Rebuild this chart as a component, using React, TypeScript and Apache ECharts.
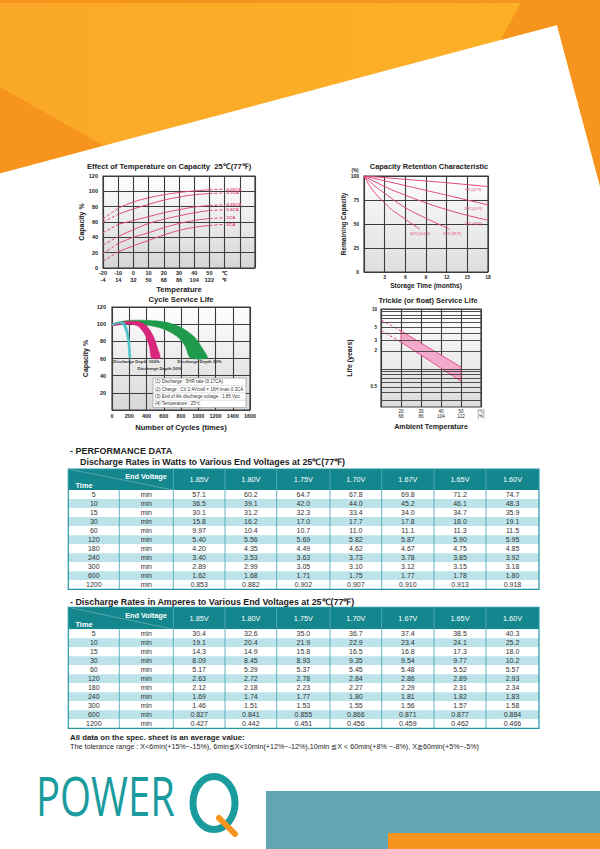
import React, { useEffect, useRef } from "react";
import * as echarts from "echarts";

const FONT = "'Liberation Sans', Arial, Helvetica, sans-serif";
const PINK = "#E2477F";
const INK = "#222";
const GRIDLINE = "#3c3c3c";

// ---------- Chart 1: Effect of Temperature on Capacity ----------
const capTempLabelsC = [-20, -10, 0, 10, 20, 30, 40, 50];
const capTempLabelsF = [-4, 14, 32, 50, 68, 86, 104, 122];
const capRates = ["0.05CA", "0.1CA", "0.25CA", "0.6CA", "1CA", "2CA"];
const capSolidTemps = [-10, 0, 10, 20, 30, 40, 50];
const capSolid = [
  [78, 86, 91.5, 95.5, 98.5, 100.5, 102],
  [70, 77, 83, 88.5, 92.5, 95.5, 97],
  [57, 62, 67, 72, 76, 79.5, 81.5],
  [41, 50, 58, 63.5, 68, 72, 75],
  [32, 40, 46, 52.5, 58, 62, 64.5],
  [21, 29, 36, 43, 49, 53, 55.5],
];
const capColdTemps = [-20, -10];
const capCold = [[64, 78], [60, 70], [46, 57], [30, 41], [19, 32], [9, 21]];
const capHotTemps = [50, 60];
const capHot = [[102, 103], [97, 98], [81.5, 82.5], [75, 76], [64.5, 65.5], [55.5, 57]];

// ---------- Chart 2: Capacity Retention ----------
const retLabels = ["5℃(41℉)", "10℃(50℉)", "20℃(68℉)", "30℃(86℉)", "40℃(104℉)"];
const retCurves = [
  [[0, 100], [3, 98.3], [6, 96.5], [9, 94.8], [12, 93], [15, 91], [18, 89]],
  [[0, 100], [3, 95], [6, 90], [9, 85], [12, 80], [15, 75], [18, 70]],
  [[0, 100], [3, 89], [6, 80], [9, 72], [12, 65], [15, 59], [18, 54]],
  [[0, 100], [1.5, 90], [3, 82], [6, 67], [9, 56], [12, 46], [12.4, 44.5]],
  [[0, 100], [1, 88], [2, 79], [3, 72], [4, 65], [5, 60], [6, 55], [7, 50], [8.1, 44.5]],
];

// ---------- Chart 3: Cycle Service Life ----------
const cycDepths = ["Discharge Depth 30%", "Discharge Depth 50%", "Discharge Depth 100%"];
const cycUpper = [
  [[0, 100.2], [100, 103], [207, 104.5], [402, 104.5], [616, 102.5], [792, 96.7], [948, 85.8], [1046, 72.2], [1104, 60.6]],
  [[0, 100.2], [100, 102.3], [207, 103.3], [324, 102.5], [413, 96.7], [480, 85.8], [527, 72.2], [558, 60.6]],
  [[0, 100.2], [90, 102.5], [148, 101.4], [187, 91.7], [207, 78], [218, 60.6]],
];
const cycLower = [
  [[0, 98.3], [100, 99.8], [207, 100.6], [402, 99], [597, 94.4], [753, 85.8], [850, 74.1], [909, 60.6]],
  [[0, 98.3], [100, 99.5], [207, 100.2], [304, 97.5], [382, 87.8], [433, 74.2], [460, 60.6]],
  [[0, 98.6], [82, 101], [129, 98.6], [168, 87.8], [187, 74.2], [199, 60.6]],
];
const cycColors = ["#1F9A4B", "#D8267A", "#4CC3C6"];
const cycNotes = [
  "(1) Discharge : 5HR rate (0.17CA)",
  "(2) Charge : CV 2.4V/cell × 16H Imax 0.3CA",
  "(3) End of life discharge voltage : 1.85 Vpc",
  "(4) Temperature : 25℃",
];

// ---------- Chart 4: Trickle (float) Service Life ----------
const floatTempC = [20, 30, 40, 50];
const floatTempF = [68, 86, 104, 122];
const lifeBandUpper = [[20, 4.3], [50, 1.07]];
const lifeBandLower = [[20, 2.8], [50, 0.62]];
const lifeDashUpper = [[10, 6.6], [20, 4.3]];
const lifeDashLower = [[10, 4.4], [20, 2.8]];
const lifeGridValues = [10, 9, 8, 7, 6, 5, 4, 3, 2, 1, 0.9, 0.8, 0.7, 0.6, 0.5, 0.4, 0.3];
const lifeTickLabels = [10, 5, 3, 2, 0.5];

// ---------- Tables ----------
const rateTimes = ["5", "10", "15", "30", "60", "120", "180", "240", "300", "600", "1200"];
const endVoltages = ["1.85V", "1.80V", "1.75V", "1.70V", "1.67V", "1.65V", "1.60V"];
const wattsTable = [
  ["57.1", "36.5", "30.1", "15.8", "9.97", "5.40", "4.20", "3.40", "2.89", "1.62", "0.853"],
  ["60.2", "39.1", "31.2", "16.2", "10.4", "5.56", "4.35", "3.53", "2.99", "1.68", "0.882"],
  ["64.7", "42.0", "32.3", "17.0", "10.7", "5.69", "4.49", "3.63", "3.05", "1.71", "0.902"],
  ["67.8", "44.0", "33.4", "17.7", "11.0", "5.82", "4.62", "3.73", "3.10", "1.75", "0.907"],
  ["69.8", "45.2", "34.0", "17.8", "11.1", "5.87", "4.67", "3.78", "3.12", "1.77", "0.910"],
  ["71.2", "46.1", "34.7", "18.0", "11.3", "5.90", "4.75", "3.85", "3.15", "1.78", "0.913"],
  ["74.7", "48.3", "35.9", "19.1", "11.5", "5.95", "4.85", "3.92", "3.18", "1.80", "0.918"],
];
const ampsTable = [
  ["30.4", "19.1", "14.3", "8.09", "5.17", "2.63", "2.12", "1.69", "1.46", "0.827", "0.427"],
  ["32.6", "20.4", "14.9", "8.45", "5.29", "2.72", "2.18", "1.74", "1.51", "0.841", "0.442"],
  ["35.0", "21.9", "15.8", "8.93", "5.37", "2.78", "2.23", "1.77", "1.53", "0.855", "0.451"],
  ["36.7", "22.9", "16.5", "9.35", "5.45", "2.84", "2.27", "1.80", "1.55", "0.866", "0.456"],
  ["37.4", "23.4", "16.8", "9.54", "5.48", "2.86", "2.29", "1.81", "1.56", "0.871", "0.459"],
  ["38.5", "24.1", "17.3", "9.77", "5.52", "2.89", "2.31", "1.82", "1.57", "0.877", "0.462"],
  ["40.3", "25.2", "18.0", "10.2", "5.57", "2.93", "2.34", "1.83", "1.58", "0.884", "0.466"],
];

// ---------- helpers ----------
function txt(x: number, y: number, text: string, o: any = {}) {
  const align = o.align || "left";
  return {
    type: "text",
    x,
    y,
    rotation: o.rotation || 0,
    scaleX: o.scaleX || 1,
    z: o.z || 10,
    style: {
      text,
      fill: o.fill || INK,
      fontSize: o.fontSize || 7,
      fontWeight: o.fontWeight || "normal",
      fontFamily: o.fontFamily || FONT,
      align,
      verticalAlign: "middle",
      textAlign: align,
      textVerticalAlign: "middle",
    },
  };
}

const gradBg = (bottom: string) => ({
  type: "linear",
  x: 0,
  y: 0,
  x2: 0,
  y2: 1,
  colorStops: [
    { offset: 0, color: "#ffffff" },
    { offset: 0.3, color: "#f3f3f3" },
    { offset: 1, color: bottom },
  ],
});

const gridStyle = (bottom: string) => ({
  show: true,
  borderColor: GRIDLINE,
  borderWidth: 1.2,
  backgroundColor: gradBg(bottom),
  containLabel: false,
  outerBoundsMode: "none",
});

const axBase = {
  axisLine: { show: false },
  axisTick: { show: false },
  splitLine: { show: true, lineStyle: { color: GRIDLINE, width: 1.1 } },
};

const nameStyle = (size: number) => ({ fontSize: size, fontWeight: "bold", color: INK, fontFamily: FONT });
const labelStyle = (size: number, margin: number, extra: any = {}) => ({
  fontSize: size,
  fontWeight: "bold",
  color: INK,
  fontFamily: FONT,
  margin,
  ...extra,
});

const COLX = [68.3, 119.3, 173.3, 225, 276.7, 330, 381.7, 434, 486, 539];

function tableGraphics(top: number, headH: number, rowH: number, cols: string[][]) {
  const els: any[] = [];
  const left = COLX[0];
  const right = COLX[COLX.length - 1];
  const w = right - left;
  const bodyTop = top + headH;
  const bottom = bodyTop + rowH * rateTimes.length;
  els.push({ type: "rect", shape: { x: left, y: top, width: w, height: headH }, style: { fill: "#13878D" }, z: 5 });
  rateTimes.forEach((_, i) => {
    els.push({
      type: "rect",
      shape: { x: left, y: bodyTop + i * rowH, width: w, height: rowH },
      style: { fill: i % 2 === 0 ? "#ffffff" : "#BCE3EA" },
      z: 5,
    });
  });
  for (let k = 2; k < COLX.length - 1; k++) {
    els.push({ type: "line", shape: { x1: COLX[k], y1: top, x2: COLX[k], y2: bodyTop }, style: { stroke: "#5DB3B8", lineWidth: 0.8 }, z: 6 });
  }
  for (let k = 1; k < COLX.length - 1; k++) {
    els.push({ type: "line", shape: { x1: COLX[k], y1: bodyTop, x2: COLX[k], y2: bottom }, style: { stroke: "#3FA2AD", lineWidth: 0.8 }, z: 6 });
  }
  els.push({ type: "line", shape: { x1: left, y1: top, x2: COLX[2], y2: bodyTop }, style: { stroke: "rgba(255,255,255,0.45)", lineWidth: 0.6 }, z: 6 });
  els.push({ type: "rect", shape: { x: left, y: top, width: w, height: bottom - top }, style: { fill: "none", stroke: "#2596A3", lineWidth: 1.2 }, z: 7 });
  els.push(txt(146, top + headH * 0.36, "End Voltage", { fill: "#fff", fontSize: 7.3, fontWeight: "bold", align: "center" }));
  els.push(txt(84, top + headH * 0.8, "Time", { fill: "#fff", fontSize: 7.3, fontWeight: "bold", align: "center" }));
  endVoltages.forEach((v, k) => {
    els.push(txt((COLX[k + 2] + COLX[k + 3]) / 2, top + headH / 2, v, { fill: "#fff", fontSize: 7.3, align: "center" }));
  });
  rateTimes.forEach((t, i) => {
    const cy = bodyTop + rowH * (i + 0.5);
    els.push(txt((COLX[0] + COLX[1]) / 2, cy, t, { fontSize: 7, fill: "#333", align: "center" }));
    els.push(txt((COLX[1] + COLX[2]) / 2, cy, "min", { fontSize: 7, fill: "#333", align: "center" }));
    cols.forEach((col, k) => {
      els.push(txt((COLX[k + 2] + COLX[k + 3]) / 2, cy, col[i], { fontSize: 7, fill: "#333", align: "center" }));
    });
  });
  return els;
}

function buildOption() {
  const series: any[] = [];

  capRates.forEach((r, i) => {
    series.push({
      type: "line", xAxisIndex: 0, yAxisIndex: 0, smooth: true, symbol: "none", silent: true,
      data: capSolidTemps.map((t, j) => [t, capSolid[i][j]]),
      lineStyle: { color: PINK, width: 1 },
    });
    series.push({
      type: "line", xAxisIndex: 0, yAxisIndex: 0, symbol: "none", silent: true,
      data: capColdTemps.map((t, j) => [t, capCold[i][j]]),
      lineStyle: { color: PINK, width: 1, type: [3, 2] },
    });
    series.push({
      type: "line", name: r, xAxisIndex: 0, yAxisIndex: 0, symbol: "none", silent: true,
      data: capHotTemps.map((t, j) => [t, capHot[i][j]]),
      lineStyle: { color: PINK, width: 1, type: [3, 2] },
      endLabel: { show: true, formatter: () => r, fontSize: 4.4, color: PINK, fontWeight: "bold", fontFamily: FONT, distance: 2 },
    });
  });

  retCurves.forEach((c, i) => {
    series.push({
      type: "line", name: retLabels[i], xAxisIndex: 1, yAxisIndex: 1, smooth: true, symbol: "none", silent: true,
      data: c, lineStyle: { color: PINK, width: 1 },
    });
  });

  cycDepths.forEach((d, i) => {
    const pts = [...cycUpper[i], ...cycLower[i].slice().reverse()];
    series.push({
      type: "custom", name: d, xAxisIndex: 2, yAxisIndex: 2, silent: true, clip: false,
      data: [[0, 100]],
      renderItem: (_p: any, api: any) => ({
        type: "polygon",
        shape: { points: pts.map((p) => api.coord(p)), smooth: 0.25 },
        style: { fill: cycColors[i], stroke: cycColors[i], lineWidth: 0.5 },
      }),
    });
  });

  const bandPts = [...lifeBandUpper, ...lifeBandLower.slice().reverse()];
  series.push({
    type: "custom", xAxisIndex: 3, yAxisIndex: 3, silent: true, clip: false,
    data: [[20, 2]], z: 3,
    renderItem: (_p: any, api: any) => ({
      type: "polygon",
      shape: { points: bandPts.map((p) => api.coord(p)) },
      style: { fill: "#F2A9CC", stroke: PINK, lineWidth: 0.9 },
    }),
  });
  series.push({
    type: "line", xAxisIndex: 3, yAxisIndex: 3, symbol: "none", silent: true,
    data: lifeDashUpper, lineStyle: { color: PINK, width: 1, type: [3, 2] },
    markLine: {
      silent: true,
      symbol: ["none", "none"],
      animation: false,
      lineStyle: { color: GRIDLINE, width: 0.9, type: "solid" },
      label: { show: false },
      emphasis: { disabled: true },
      data: lifeGridValues.map((v) => ({
        yAxis: v,
        label: lifeTickLabels.includes(v)
          ? { show: true, position: "start", formatter: () => String(v), fontSize: 4.6, color: INK, fontFamily: FONT, fontWeight: "bold", distance: 4 }
          : { show: false },
      })),
    },
  });
  series.push({
    type: "line", xAxisIndex: 3, yAxisIndex: 3, symbol: "none", silent: true,
    data: lifeDashLower, lineStyle: { color: PINK, width: 1, type: [3, 2] },
  });

  const graphic: any[] = [];
  graphic.push({
    type: "polygon", z: 0,
    shape: { points: [[0, 0], [600, 0], [600, 186], [557, 25], [0, 173.3]] },
    style: { fill: { type: "linear", x: 0, y: 0, x2: 1, y2: 0, colorStops: [{ offset: 0, color: "#FAA928" }, { offset: 1, color: "#FCB125" }] } },
  });
  graphic.push({ type: "polygon", z: 1, shape: { points: [[522, 0], [600, 0], [600, 186], [557, 25], [501, 39.9]] }, style: { fill: "#F7941E" } });
  graphic.push({ type: "polygon", z: 1, shape: { points: [[0, 87], [103, 145.6], [0, 173.3]] }, style: { fill: "#F7941E" } });
  graphic.push({ type: "rect", z: 1, shape: { x: 0, y: 0, width: 600, height: 3 }, style: { fill: "#F7941E" } });

  graphic.push({ type: "rect", z: 1, shape: { x: 266, y: 791, width: 334, height: 58 }, style: { fill: "#62A6B3" } });
  graphic.push({ type: "rect", z: 2, shape: { x: 388, y: 833, width: 212, height: 16 }, style: { fill: "#F7941E" } });
  graphic.push(txt(36, 795, "POWER", { fill: "#1A9B9E", fontSize: 54, fontFamily: "'Open Sans', 'DejaVu Sans', sans-serif", fontWeight: "normal", scaleX: 0.74 }));
  graphic.push({ type: "ellipse", z: 10, shape: { cx: 214, cy: 803, rx: 21, ry: 26.5 }, style: { fill: "none", stroke: "#1A9B9E", lineWidth: 7 } });
  graphic.push({ type: "line", z: 11, shape: { x1: 219, y1: 818, x2: 235, y2: 834 }, style: { stroke: "#F7941E", lineWidth: 6, lineCap: "round" } });

  graphic.push(txt(87, 166, "Effect of Temperature on Capacity  25℃(77℉)", { fontSize: 7.6, fontWeight: "bold" }));
  graphic.push(txt(429, 166, "Capacity Retention Characteristic", { fontSize: 7.4, fontWeight: "bold", align: "center" }));
  graphic.push(txt(181, 299, "Cycle Service Life", { fontSize: 7.6, fontWeight: "bold", align: "center" }));
  graphic.push(txt(428, 300, "Trickle (or float) Service Life", { fontSize: 7.4, fontWeight: "bold", align: "center" }));

  graphic.push(txt(355, 170, "(%)", { fontSize: 4.6, fontWeight: "bold", align: "center" }));
  const retLabelPos = [[473, 190], [473, 209], [473, 224.3], [452, 234], [420, 234]];
  retLabels.forEach((l, i) => graphic.push(txt(retLabelPos[i][0], retLabelPos[i][1], l, { fontSize: 3.8, fill: PINK, align: "center" })));

  const depthPos = [[199.5, 361.7], [159.5, 368.3], [136.5, 361.7]];
  cycDepths.forEach((d, i) => graphic.push(txt(depthPos[i][0], depthPos[i][1], d, { fontSize: 4.3, fontWeight: "bold", fill: "#333", align: "center" })));
  const boxTop = 378, rowH = 7.4;
  graphic.push({ type: "rect", z: 10, shape: { x: 153, y: boxTop, width: 93, height: rowH * 4 }, style: { fill: "#ffffff", stroke: "#8a8a8a", lineWidth: 0.6 } });
  cycNotes.forEach((n, i) => {
    if (i > 0) graphic.push({ type: "line", z: 11, shape: { x1: 153, y1: boxTop + rowH * i, x2: 246, y2: boxTop + rowH * i }, style: { stroke: "#b0b0b0", lineWidth: 0.4 } });
    graphic.push(txt(155, boxTop + rowH * (i + 0.5), n, { fontSize: 4.5, fill: "#333", z: 12 }));
  });

  graphic.push(txt(70, 451, "- PERFORMANCE DATA", { fontSize: 9, fontWeight: "bold", fill: "#1d1d1d" }));
  graphic.push(txt(80, 462, "Discharge Rates in Watts to Various End Voltages at 25℃(77℉)", { fontSize: 8.9, fontWeight: "bold", fill: "#1d1d1d" }));
  graphic.push(...tableGraphics(469, 21, 9.03, wattsTable));
  graphic.push(txt(70, 602, "- Discharge Rates in Amperes to Various End Voltages at 25℃(77℉)", { fontSize: 8.9, fontWeight: "bold", fill: "#1d1d1d" }));
  graphic.push(...tableGraphics(607.3, 22, 9.0, ampsTable));
  graphic.push(txt(70, 737.3, "All data on the spec. sheet is an average value:", { fontSize: 7.8, fontWeight: "bold", fill: "#1d1d1d" }));
  graphic.push(txt(70, 746.7, "The tolerance range : X<6min(+15%~-15%), 6min≦X<10min(+12%~-12%),10min ≦X < 60min(+8% ~-8%), X≧60min(+5%~-5%)", { fontSize: 7.2, fill: "#1d1d1d" }));

  return {
    animation: false,
    backgroundColor: "#ffffff",
    textStyle: { fontFamily: FONT },
    grid: [
      { left: 103, top: 176, width: 152, height: 92, ...gridStyle("#d6d6d6") },
      { left: 364, top: 176, width: 124, height: 96, ...gridStyle("#dedede") },
      { left: 112, top: 307, width: 138, height: 103, ...gridStyle("#d8d8d8") },
      { left: 381, top: 309, width: 100, height: 98, ...gridStyle("#dcdcdc") },
    ],
    xAxis: [
      {
        type: "value", gridIndex: 0, min: -20, max: 80, interval: 10, ...axBase,
        axisLabel: labelStyle(5.5, 1, {
          lineHeight: 7.3,
          formatter: (v: number) => {
            const k = capTempLabelsC.indexOf(v);
            if (k >= 0) return capTempLabelsC[k] + "\n" + capTempLabelsF[k];
            if (v === 60) return "℃\n℉";
            return "";
          },
        }),
        name: "Temperature", nameLocation: "middle", nameGap: 17, nameTextStyle: nameStyle(7.6),
      },
      {
        type: "value", gridIndex: 1, min: 0, max: 18, interval: 3, ...axBase,
        axisLabel: labelStyle(5, 2, { formatter: (v: number) => (v === 0 ? "" : String(v)) }),
        name: "Storage Time (months)", nameLocation: "middle", nameGap: 10, nameTextStyle: nameStyle(6.6),
      },
      {
        type: "value", gridIndex: 2, min: 0, max: 1600, interval: 200, ...axBase,
        axisLabel: labelStyle(5.5, 3, { formatter: (v: number) => String(v) }),
        name: "Number of Cycles (times)", nameLocation: "middle", nameGap: 13, nameTextStyle: nameStyle(7.6),
      },
      {
        type: "value", gridIndex: 3, min: 10, max: 60, interval: 10, ...axBase,
        axisLabel: labelStyle(4.5, 1.5, {
          lineHeight: 5,
          fontWeight: "normal",
          formatter: (v: number) => {
            const k = floatTempC.indexOf(v);
            if (k >= 0) return floatTempC[k] + "\n" + floatTempF[k];
            if (v === 60) return "(℃)\n(℉)";
            return "";
          },
        }),
        name: "Ambient Temperature", nameLocation: "middle", nameGap: 16, nameTextStyle: nameStyle(7.2),
      },
    ],
    yAxis: [
      {
        type: "value", gridIndex: 0, min: 0, max: 120, interval: 20, ...axBase,
        axisLabel: labelStyle(5.5, 5),
        name: "Capacity %", nameLocation: "middle", nameGap: 15, nameTextStyle: nameStyle(7),
      },
      {
        type: "value", gridIndex: 1, min: 0, max: 100, interval: 25, ...axBase,
        axisLabel: labelStyle(5, 5),
        name: "Remaining Capacity", nameLocation: "middle", nameGap: 14, nameTextStyle: nameStyle(6.6),
      },
      {
        type: "value", gridIndex: 2, min: 0, max: 120, interval: 20, ...axBase,
        axisLabel: labelStyle(5.5, 6, { formatter: (v: number) => (v === 0 ? "" : String(v)) }),
        name: "Capacity %", nameLocation: "middle", nameGap: 23, nameTextStyle: nameStyle(7),
      },
      {
        type: "log", gridIndex: 3, min: 0.23, max: 10, logBase: 10,
        axisLine: { show: false }, axisTick: { show: false },
        splitLine: { show: false },
        axisLabel: { show: false },
        name: "Life (years)", nameLocation: "middle", nameGap: 28, nameTextStyle: nameStyle(7),
      },
    ],
    series,
    graphic: { elements: graphic },
  };
}

export default function App() {
  const ref = useRef<HTMLDivElement>(null);
  useEffect(() => {
    document.body.style.margin = "0";
    const chart = echarts.init(ref.current!, null, { renderer: "svg", width: 600, height: 849 });
    chart.setOption(buildOption() as any);
    return () => chart.dispose();
  }, []);
  return <div ref={ref} style={{ position: "absolute", left: 0, top: 0, width: 600, height: 849 }} />;
}
